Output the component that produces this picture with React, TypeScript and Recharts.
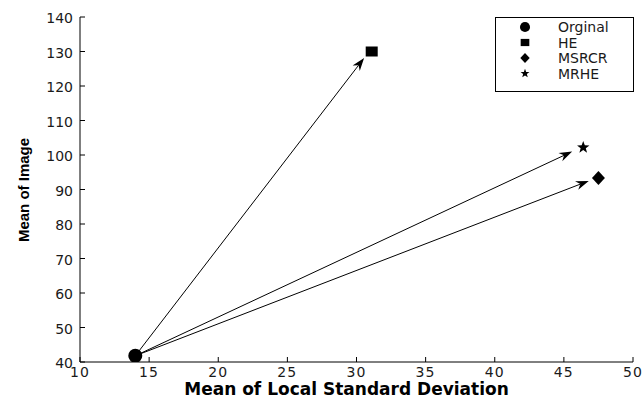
import React from 'react';
import { ScatterChart, Scatter, XAxis, YAxis, ReferenceLine } from 'recharts';

const xTicks = [10, 15, 20, 25, 30, 35, 40, 45, 50];
const yTicks = [40, 50, 60, 70, 80, 90, 100, 110, 120, 130, 140];

const seriesNames = ['Orginal', 'HE', 'MSRCR', 'MRHE'];
const meanStd = [14, 31.1, 47.5, 46.4];
const meanImage = [41.8, 130, 93.3, 102.2];

// arrows go from Orginal to the others, stopping just short of each marker
const arrowTargets = ['HE', 'MSRCR', 'MRHE'];
const arrowEndX = [30.55, 46.8, 45.6];
const arrowEndY = [128.1, 92.5, 101.0];

const tickFont = { fontFamily: 'DejaVu Sans', fontSize: 14, fill: '#1a1a1a' };

const marker = (name: string, cx: number, cy: number, s: number) => {
  if (name === 'Orginal') return <circle cx={cx} cy={cy} r={7 * s} fill="#000" />;
  if (name === 'HE') return <rect x={cx - 6 * s} y={cy - 5 * s} width={12 * s} height={10 * s} fill="#000" />;
  if (name === 'MSRCR')
    return (
      <polygon
        points={`${cx},${cy - 7 * s} ${cx + 6.5 * s},${cy} ${cx},${cy + 7 * s} ${cx - 6.5 * s},${cy}`}
        fill="#000"
      />
    );
  const pts: string[] = [];
  for (let i = 0; i < 10; i++) {
    const r = (i % 2 === 0 ? 6.5 : 2.7) * s;
    const a = -Math.PI / 2 + (i * Math.PI) / 5;
    pts.push(`${cx + r * Math.cos(a)},${cy + r * Math.sin(a)}`);
  }
  return <polygon points={pts.join(' ')} fill="#000" />;
};

const Arrow = (props: any) => {
  const { x1, y1, x2, y2 } = props;
  const ang = Math.atan2(y2 - y1, x2 - x1);
  const len = 13;
  const hw = 4.5;
  const bx = x2 - len * Math.cos(ang);
  const by = y2 - len * Math.sin(ang);
  const nx = x2 - (len - 4) * Math.cos(ang);
  const ny = y2 - (len - 4) * Math.sin(ang);
  const px = -Math.sin(ang) * hw;
  const py = Math.cos(ang) * hw;
  return (
    <g>
      <line x1={x1} y1={y1} x2={nx} y2={ny} stroke="#000" strokeWidth={1} />
      <polygon points={`${x2},${y2} ${bx + px},${by + py} ${nx},${ny} ${bx - px},${by - py}`} fill="#000" />
    </g>
  );
};

const BottomTick = ({ x, y, payload }: any) => (
  <g>
    <line x1={x} y1={y} x2={x} y2={y - 5} stroke="#000" />
    <text x={x} y={y + 15} textAnchor="middle" letterSpacing={1.2} {...tickFont}>
      {payload.value}
    </text>
  </g>
);

const LeftTick = ({ x, y, payload }: any) => (
  <g>
    <line x1={x} y1={y} x2={x + 5} y2={y} stroke="#000" />
    <text x={x - 7} y={y + 6} textAnchor="end" {...tickFont}>
      {payload.value}
    </text>
  </g>
);

const TopTick = ({ x, y }: any) => <line x1={x} y1={y} x2={x} y2={y + 5} stroke="#000" />;
const RightTick = ({ x, y }: any) => <line x1={x} y1={y} x2={x - 5} y2={y} stroke="#000" />;

const LegendBox = () => (
  <svg width={139} height={75} style={{ display: 'block' }}>
    <rect x={0.5} y={0.5} width={138} height={74} fill="#fff" stroke="#000" />
    {seriesNames.map((n, i) => (
      <g key={n}>
        {marker(n, 30, 10 + i * 15.5, 0.72)}
        <text x={63} y={15 + i * 15.5} fontFamily="DejaVu Sans" fontSize={14} fill="#1a1a1a">
          {n}
        </text>
      </g>
    ))}
  </svg>
);

export default function App() {
  const origin = { x: meanStd[0], y: meanImage[0] };
  return (
    <div style={{ position: 'absolute', left: 0, top: 0, width: 644, height: 400, background: '#fff' }}>
      <ScatterChart width={644} height={400} margin={{ top: 17, right: 11, bottom: 0, left: 0 }}>
        <XAxis
          xAxisId="main"
          dataKey="x"
          type="number"
          domain={[10, 50]}
          ticks={xTicks}
          allowDataOverflow
          height={38}
          stroke="#000"
          tickLine={false}
          tickSize={0}
          tickMargin={0}
          tick={(p: any) => <BottomTick {...p} />}
          interval={0}
          label={{
            value: 'Mean of Local Standard Deviation',
            content: ({ viewBox }: any) => (
              <text
                x={viewBox.x + viewBox.width / 2 - 10}
                y={viewBox.y + 33}
                textAnchor="middle"
                fontFamily="DejaVu Sans"
                fontWeight="bold"
                fontSize={17}
                fill="#000"
              >
                Mean of Local Standard Deviation
              </text>
            ),
          }}
        />
        <XAxis
          xAxisId="top"
          orientation="top"
          type="number"
          domain={[10, 50]}
          ticks={xTicks}
          allowDataOverflow
          height={0}
          stroke="#000"
          tickLine={false}
          tickSize={0}
          tickMargin={0}
          tick={(p: any) => <TopTick {...p} />}
          interval={0}
        />
        <YAxis
          yAxisId="main"
          dataKey="y"
          type="number"
          domain={[40, 140]}
          ticks={yTicks}
          allowDataOverflow
          width={80}
          stroke="#000"
          tickLine={false}
          tickSize={0}
          tickMargin={0}
          tick={(p: any) => <LeftTick {...p} />}
          interval={0}
          label={{
            value: 'Mean of Image',
            content: () => (
              <text
                x={29}
                y={190}
                transform="rotate(-90 29 190)"
                textAnchor="middle"
                fontFamily="Liberation Sans"
                fontWeight="bold"
                fontSize={15}
                fill="#000"
              >
                Mean of Image
              </text>
            ),
          }}
        />
        <YAxis
          yAxisId="right"
          orientation="right"
          type="number"
          domain={[40, 140]}
          ticks={yTicks}
          allowDataOverflow
          width={0}
          stroke="#000"
          tickLine={false}
          tickSize={0}
          tickMargin={0}
          tick={(p: any) => <RightTick {...p} />}
          interval={0}
        />
        {arrowTargets.map((t, i) => (
          <ReferenceLine
            key={t}
            xAxisId="main"
            yAxisId="main"
            segment={[origin, { x: arrowEndX[i], y: arrowEndY[i] }]}
            shape={(p: any) => <Arrow {...p} />}
          />
        ))}
        {seriesNames.map((n, i) => (
          <Scatter
            key={n}
            name={n}
            xAxisId="main"
            yAxisId="main"
            data={[{ x: meanStd[i], y: meanImage[i] }]}
            fill="#000"
            isAnimationActive={false}
            shape={(p: any) => marker(n, p.cx, p.cy, 1)}
          />
        ))}
      </ScatterChart>
      <div style={{ position: 'absolute', left: 495, top: 17 }}>
        <LegendBox />
      </div>
    </div>
  );
}
